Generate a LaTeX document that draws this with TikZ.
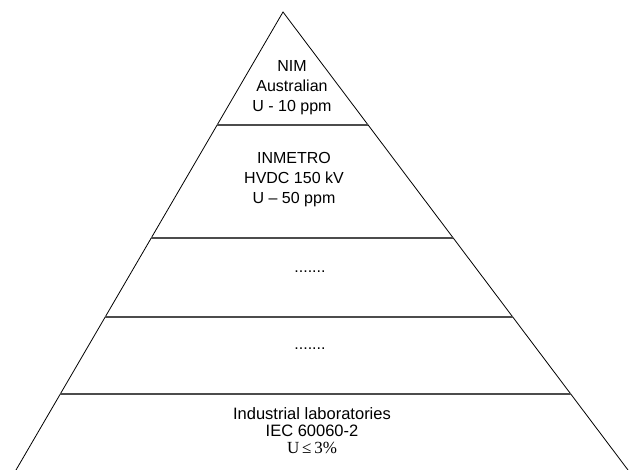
\documentclass[tikz,border=0pt]{standalone}
\usepackage{fontspec}
\setmainfont{Liberation Sans}
\newfontfamily\serifsym{Liberation Serif}
\usetikzlibrary{calc}

\tikzset{
  side/.style={line width=0.8pt, color=black},
  level/.style={line width=1.1pt, color=black!70},
  tiertext/.style={align=center, inner sep=0pt, font=\fontsize{16}{20}\selectfont},
  basetext/.style={align=center, inner sep=0pt, font=\fontsize{16.5}{17}\selectfont}
}

\begin{document}
\begin{tikzpicture}[x=1pt,y=-1pt]
\useasboundingbox (0,0) rectangle (637,470);

% Corners of the pyramid
\coordinate (apex) at (283,12);
\coordinate (bl) at (16,470);
\coordinate (br) at (628,470);

% Draw the two sides
\draw[side] (bl) -- (apex) -- (br);

% Draw the level lines
\foreach \t/\n in {0.2467/a, 0.4934/b, 0.6659/c, 0.8341/d}{
  \coordinate (l\n) at ($(apex)!\t!(bl)$);
  \coordinate (r\n) at ($(apex)!\t!(br)$);
  \draw[level] (l\n) -- (r\n);
}

% Text of each level
\node[tiertext] (nim) at (292,88) {NIM\\Australian\\U - 10 ppm};
\node[tiertext] (inmetro) at (294,180) {INMETRO\\HVDC 150 kV\\U -- 50 ppm};
\node[tiertext] (dotsup) at (310,272) {.......};
\node[tiertext] (dotslow) at (310,349) {.......};
\node[basetext] (industry) at (312,431) {Industrial laboratories\\IEC 60060-2\\{\serifsym\fontsize{17}{17}\selectfont U\,≤\,3\%}};
\end{tikzpicture}
\end{document}
